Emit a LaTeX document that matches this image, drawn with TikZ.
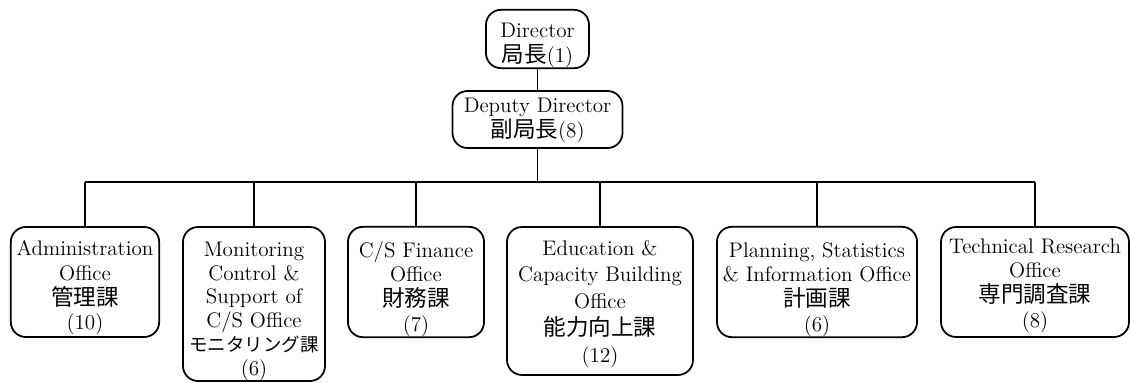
\documentclass[tikz,border=0pt]{standalone}
\usepackage{fontspec}
\usepackage{tikz}
\newfontfamily\cjk[Scale=1.07]{Noto Sans CJK JP}
\newcommand{\firstline}[1]{\rule{0pt}{#1}}
\tikzstyle{head} = [rectangle,
                    rounded corners=0.3cm,
                    align=center,
                    inner ysep=0pt,
                    draw=black,
                    line width=1pt,
                    font=\fontsize{12}{14.7}\selectfont]
\tikzstyle{office} = [rectangle,
                      rounded corners=0.3cm,
                      minimum height=2.2cm,
                      align=center,
                      inner ysep=0pt,
                      draw=black,
                      line width=1pt,
                      font=\fontsize{12}{14.2}\selectfont]
\tikzstyle{link} = [line width=1pt]

\begin{document}
\begin{tikzpicture}[node distance=1.61cm]
    \useasboundingbox (0,0) rectangle (22.6,-7.64);

    \node (dir)   [head, minimum width=2.06cm, minimum height=1.16cm] at (10.75,-0.78)
                  {\firstline{16pt}Director\\[-0.5pt]{\cjk 局長}(1)};
    \node (dep)   [head, minimum width=3.4cm, minimum height=1.14cm, below of=dir]
                  {\firstline{9.2pt}Deputy Director\\{\cjk 副局長}(8)};

    \node (admin) [office, minimum width=2.96cm] at (1.70,-5.64)
                  {\firstline{15pt}Administration\\Office\\{\cjk 管理課}\\(10)};
    \node (moni)  [office, minimum width=2.84cm, minimum height=3.08cm,
                   font=\fontsize{12}{13.6}\selectfont] at (5.08,-6.08)
                  {\firstline{16.5pt}Monitoring\\Control \&\\Support of\\C/S Office\\{\cjk\fontsize{9.8}{12}\selectfont モニタリング課}\\(6)};
    \node (fin)   [office, minimum width=2.72cm] at (8.32,-5.64)
                  {\firstline{17.2pt}C/S Finance\\Office\\{\cjk 財務課}\\(7)};
    \node (edu)   [office, minimum width=3.72cm, minimum height=2.96cm,
                   font=\fontsize{12}{15.2}\selectfont] at (12.00,-6.02)
                  {\firstline{11.7pt}Education \&\\Capacity Building\\Office\\{\cjk 能力向上課}\\(12)};
    \node (plan)  [office, minimum width=4.0cm] at (16.34,-5.64)
                  {\firstline{17.2pt}Planning, Statistics\\\& Information Office\\{\cjk 計画課}\\(6)};
    \node (tech)  [office, minimum width=3.76cm] at (20.70,-5.64)
                  {\firstline{12.6pt}Technical Research\\Office\\{\cjk 専門調査課}\\(8)};

    \coordinate (bus) at (10.75,-3.64);

    \draw [link] (dir) -- (dep);
    \draw [link] (dep) -- (bus);
    \draw [link] (admin |- bus) -- (tech |- bus);
    \foreach \n in {admin,moni,fin,edu,plan,tech}
        \draw [link] (\n.north) -- (\n |- bus);

\end{tikzpicture}
\end{document}
